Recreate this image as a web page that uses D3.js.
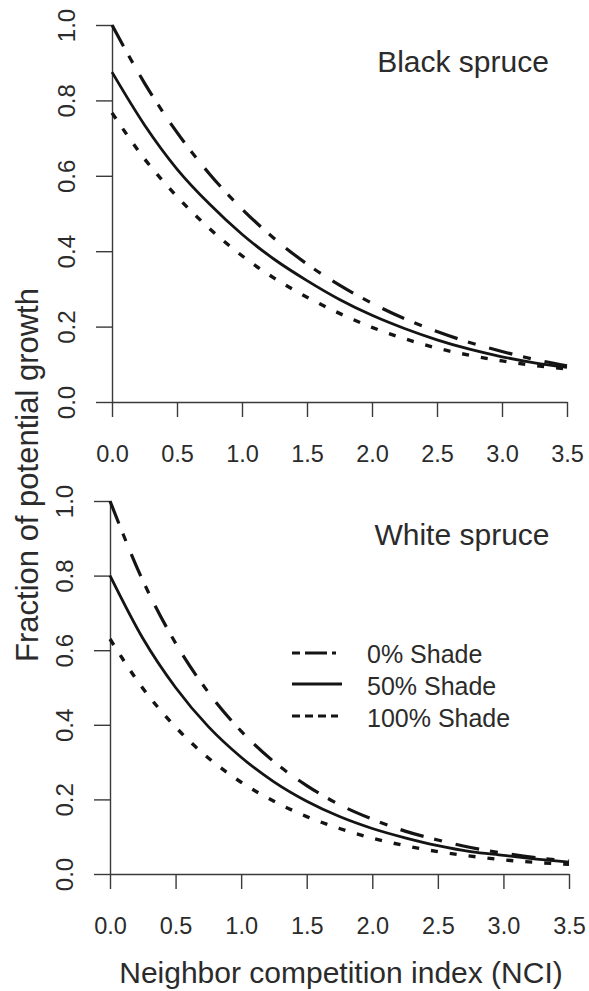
<!DOCTYPE html>
<html>
<head>
<meta charset="utf-8">
<script src="https://cdn.jsdelivr.net/npm/d3@7"></script>
<style>
  html, body { margin: 0; padding: 0; background: #ffffff; }
  svg { display: block; }
  text { font-family: "Liberation Sans", Arial, Helvetica, sans-serif; fill: #2b2b2b; }
</style>
</head>
<body>
<svg id="chart" width="589" height="991"></svg>
<script>
// ---- Data ----
const nci = [0, 0.25, 0.5, 0.75, 1.0, 1.25, 1.5, 1.75, 2.0, 2.25, 2.5, 2.75, 3.0, 3.25, 3.5];

const blackShade0   = [1.000, 0.846, 0.715, 0.605, 0.512, 0.433, 0.366, 0.310, 0.262, 0.221, 0.187, 0.158, 0.134, 0.113, 0.096];
const blackShade50  = [0.875, 0.735, 0.618, 0.525, 0.445, 0.378, 0.322, 0.272, 0.230, 0.195, 0.165, 0.140, 0.120, 0.104, 0.092];
const blackShade100 = [0.767, 0.645, 0.545, 0.460, 0.388, 0.328, 0.278, 0.235, 0.198, 0.168, 0.143, 0.124, 0.109, 0.097, 0.088];

const whiteShade0   = [1.000, 0.787, 0.619, 0.487, 0.383, 0.301, 0.237, 0.186, 0.147, 0.115, 0.091, 0.071, 0.056, 0.044, 0.035];
const whiteShade50  = [0.800, 0.632, 0.500, 0.395, 0.313, 0.247, 0.195, 0.154, 0.122, 0.097, 0.076, 0.060, 0.050, 0.040, 0.032];
const whiteShade100 = [0.630, 0.498, 0.394, 0.311, 0.246, 0.195, 0.154, 0.122, 0.096, 0.076, 0.060, 0.048, 0.038, 0.031, 0.026];

const xTicks = [0, 0.5, 1.0, 1.5, 2.0, 2.5, 3.0, 3.5];
const yTicks = [0, 0.2, 0.4, 0.6, 0.8, 1.0];

const panelTitles = ["Black spruce", "White spruce"];
const legendLabels = ["0% Shade", "50% Shade", "100% Shade"];
const xTitle = "Neighbor competition index (NCI)";
const yTitle = "Fraction of potential growth";

// ---- Layout / styles ----
const svg = d3.select("#chart");
const lineColor = "#141414";
const axisColor = "#3a3a3a";
const seriesStyles = [
  { dash: "24,11,8,14", width: 3.2 },   // 0% shade
  { dash: null,         width: 2.8 },   // 50% shade
  { dash: "7,12",       width: 3.4 }    // 100% shade
];
const legendDash = ["8,5,22,5,6", null, "8,5"];

const panels = [
  { left: 112, right: 567, top: 25,  bottom: 402, series: [blackShade0, blackShade50, blackShade100],
    title: panelTitles[0], titleX: 463, titleY: 72 },
  { left: 110, right: 569, top: 501, bottom: 874, series: [whiteShade0, whiteShade50, whiteShade100],
    title: panelTitles[1], titleX: 462, titleY: 545 }
];

panels.forEach((p, pi) => {
  const x = d3.scaleLinear().domain([0, 3.5]).range([p.left, p.right]);
  const y = d3.scaleLinear().domain([0, 1]).range([p.bottom, p.top]);

  // x axis
  const gx = svg.append("g")
    .attr("transform", `translate(0,${p.bottom})`)
    .call(d3.axisBottom(x).tickValues(xTicks).tickFormat(d3.format(".1f"))
      .tickSize(15).tickSizeOuter(0).tickPadding(28));
  gx.select(".domain").attr("stroke", axisColor).attr("stroke-width", 1.4);
  gx.selectAll(".tick line").attr("stroke", axisColor).attr("stroke-width", 1.4);
  gx.selectAll(".tick text").attr("font-size", 23.5).attr("fill", "#2b2b2b")
    .attr("font-family", "'Liberation Sans', Arial, sans-serif");

  // y axis
  const gy = svg.append("g")
    .attr("transform", `translate(${p.left},0)`)
    .call(d3.axisLeft(y).tickValues(yTicks).tickFormat(d3.format(".1f"))
      .tickSize(16).tickSizeOuter(0));
  gy.select(".domain").attr("stroke", axisColor).attr("stroke-width", 1.4);
  gy.selectAll(".tick line").attr("stroke", axisColor).attr("stroke-width", 1.4);
  gy.selectAll(".tick text")
    .attr("font-size", 24).attr("fill", "#2b2b2b")
    .attr("font-family", "'Liberation Sans', Arial, sans-serif")
    .attr("text-anchor", "middle")
    .attr("transform", "rotate(-90)")
    .attr("x", 0).attr("y", -37).attr("dy", 0);

  // curves
  const line = d3.line()
    .x((d, i) => x(nci[i]))
    .y(d => y(d))
    .curve(d3.curveMonotoneX);

  p.series.forEach((s, si) => {
    const st = seriesStyles[si];
    svg.append("path")
      .datum(s)
      .attr("d", line)
      .attr("fill", "none")
      .attr("stroke", lineColor)
      .attr("stroke-width", st.width)
      .attr("stroke-dasharray", st.dash)
      .attr("stroke-linecap", "butt");
  });

  // panel title
  svg.append("text")
    .attr("x", p.titleX).attr("y", p.titleY)
    .attr("text-anchor", "middle")
    .attr("font-size", 30)
    .text(p.title);
});

// legend (in bottom panel)
const legendRows = [
  { lineY: 653, textY: 663, x1: 292, x2: 336 },
  { lineY: 684, textY: 695, x1: 292, x2: 342 },
  { lineY: 716, textY: 727, x1: 292, x2: 338 }
];
legendLabels.forEach((lab, i) => {
  const r = legendRows[i];
  svg.append("line")
    .attr("x1", r.x1).attr("x2", r.x2)
    .attr("y1", r.lineY).attr("y2", r.lineY)
    .attr("stroke", lineColor)
    .attr("stroke-width", i === 1 ? 3 : 3.2)
    .attr("stroke-dasharray", legendDash[i]);
  svg.append("text")
    .attr("x", 367).attr("y", r.textY)
    .attr("font-size", 25)
    .text(lab);
});

// axis titles
svg.append("text")
  .attr("x", 341).attr("y", 983)
  .attr("text-anchor", "middle")
  .attr("font-size", 30)
  .text(xTitle);

svg.append("text")
  .attr("transform", "translate(38,475) rotate(-90)")
  .attr("text-anchor", "middle")
  .attr("font-size", 31)
  .text(yTitle);
</script>
</body>
</html>
